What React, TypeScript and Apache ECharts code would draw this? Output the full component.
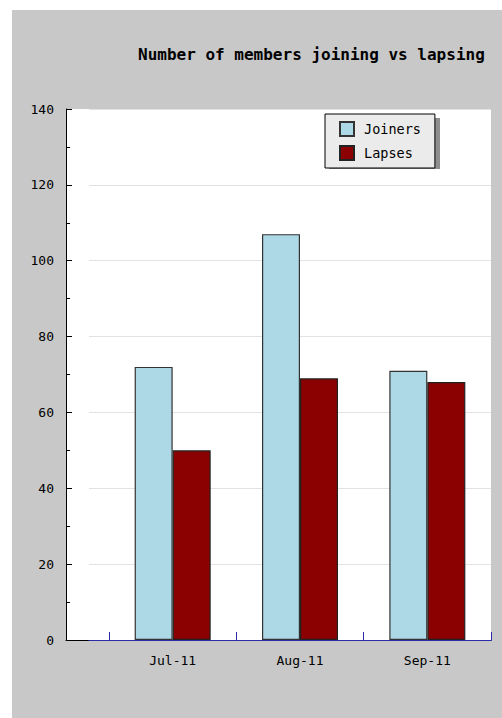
import React, { useEffect, useRef } from "react";
import * as echarts from "echarts";

const categories = ["Jul-11", "Aug-11", "Sep-11"];
const joiners = [72, 107, 71];
const lapses = [50, 69, 68];
const seriesNames = ["Joiners", "Lapses"];
const titleText = "Number of members joining vs lapsing";

const MONO = "'DejaVu Sans Mono', 'Liberation Mono', monospace";
const AXIS_BLUE = "#2b2ba8";

export default function App() {
  const ref = useRef<HTMLDivElement>(null);
  useEffect(() => {
    if (!ref.current) return;
    const chart = echarts.init(ref.current, undefined, { renderer: "svg" });
    const top = 99;
    const bottom = 78;
    const right = 11;
    chart.setOption({
      animation: false,
      backgroundColor: "#c8c8c8",
      title: {
        text: titleText,
        left: 126,
        top: 36,
        padding: 0,
        textStyle: { fontFamily: MONO, fontWeight: "bold", fontSize: 16, color: "#000" },
      },
      graphic: [
        {
          type: "rect",
          left: 317,
          top: 108,
          shape: { width: 111, height: 51 },
          style: { fill: "#8e8e8e" },
          z: 5,
        },
      ],
      legend: {
        data: seriesNames,
        orient: "vertical",
        left: 313,
        top: 104,
        padding: [7, 14, 7, 14],
        itemGap: 8,
        itemWidth: 14,
        itemHeight: 14,
        icon: "rect",
        backgroundColor: "#ebebeb",
        borderColor: "#000",
        borderWidth: 1,
        z: 10,
        textStyle: { fontFamily: MONO, fontSize: 13.5, color: "#000", padding: [0, 0, 0, 5] },
      },
      grid: [
        { left: 54, right, top, bottom, show: true, backgroundColor: "#fff", borderWidth: 0 },
        { left: 77, right, top, bottom, show: false },
        { left: 97, right, top, bottom, show: false },
      ],
      xAxis: [
        {
          gridIndex: 0,
          type: "value",
          min: 0,
          max: 1,
          axisLine: { show: true, onZero: false, lineStyle: { color: "#000", width: 1 } },
          axisTick: { show: false },
          axisLabel: { show: false },
          splitLine: { show: false },
        },
        {
          gridIndex: 1,
          type: "value",
          min: 0,
          max: 1,
          axisLine: { show: true, onZero: false, lineStyle: { color: AXIS_BLUE, width: 1 } },
          axisTick: { show: false },
          axisLabel: { show: false },
          splitLine: { show: false },
        },
        {
          gridIndex: 2,
          type: "category",
          data: categories,
          axisLine: { show: true, onZero: false, lineStyle: { color: AXIS_BLUE, width: 1 } },
          axisTick: { show: true, inside: true, length: 8, lineStyle: { color: AXIS_BLUE, width: 1 } },
          axisLabel: { margin: 14, fontFamily: MONO, fontSize: 13, color: "#000" },
        },
      ],
      yAxis: [
        {
          gridIndex: 0,
          type: "value",
          min: 0,
          max: 140,
          interval: 20,
          axisLine: { show: true, lineStyle: { color: "#000", width: 1 } },
          axisTick: { show: true, inside: true, length: 6, lineStyle: { color: "#000" } },
          minorTick: { show: true, splitNumber: 2, length: 4, lineStyle: { color: "#000" } },
          axisLabel: { margin: 12, fontFamily: MONO, fontSize: 13, color: "#000" },
          splitLine: { show: false },
        },
        {
          gridIndex: 1,
          type: "value",
          min: 0,
          max: 140,
          interval: 20,
          axisLine: { show: false },
          axisTick: { show: false },
          axisLabel: { show: false },
          splitLine: { show: true, lineStyle: { color: "#e2e2e2", width: 1 } },
        },
        {
          gridIndex: 2,
          type: "value",
          min: 0,
          max: 140,
          interval: 20,
          show: false,
        },
      ],
      series: [
        {
          name: seriesNames[0],
          type: "bar",
          xAxisIndex: 2,
          yAxisIndex: 2,
          data: joiners,
          barWidth: 38,
          barGap: "0%",
          itemStyle: { color: "#add8e6", borderColor: "#333", borderWidth: 1.2 },
        },
        {
          name: seriesNames[1],
          type: "bar",
          xAxisIndex: 2,
          yAxisIndex: 2,
          data: lapses,
          barWidth: 38,
          barGap: "0%",
          itemStyle: { color: "#8b0000", borderColor: "#222", borderWidth: 1.2 },
        },
      ],
    });
    return () => chart.dispose();
  }, []);
  return (
    <div
      ref={ref}
      style={{ position: "fixed", left: 12, top: 10, width: 490, height: 708 }}
    />
  );
}
